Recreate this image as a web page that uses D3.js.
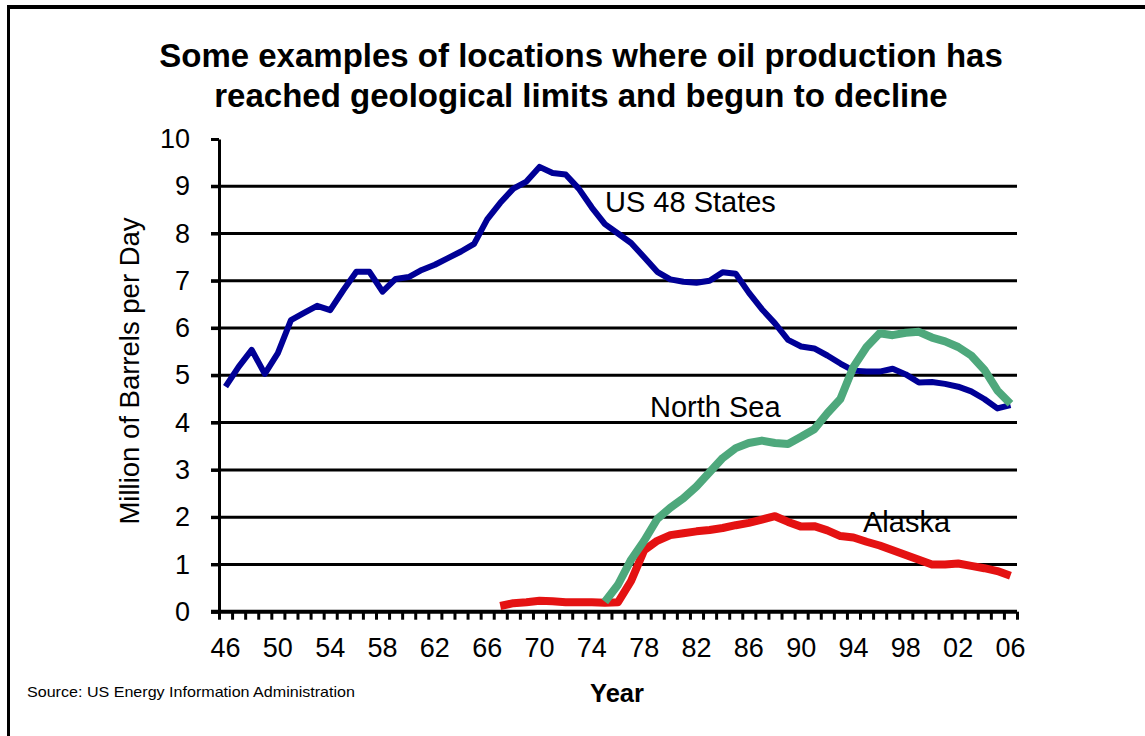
<!DOCTYPE html>
<html>
<head>
<meta charset="utf-8">
<script src="https://cdn.jsdelivr.net/npm/d3@7"></script>
<style>
  body { margin: 0; background: #fff; }
  svg { display: block; font-family: "Liberation Sans", Arial, sans-serif; }
</style>
</head>
<body>
<div id="chart"></div>
<script>
// years on the category axis
var years = d3.range(1946, 2007);
var labelYears = d3.range(1946, 2007, 4);

// US lower 48 states, 1946-2006
var usValues = [4.76, 5.18, 5.54, 5.03, 5.47, 6.17, 6.32, 6.47, 6.38, 6.8,
  7.19, 7.19, 6.77, 7.04, 7.08, 7.23, 7.34, 7.48, 7.62, 7.78,
  8.3, 8.65, 8.95, 9.1, 9.41, 9.28, 9.25, 8.95, 8.55, 8.2,
  8.0, 7.8, 7.5, 7.19, 7.03, 6.98, 6.96, 7.0, 7.18, 7.15,
  6.75, 6.4, 6.1, 5.75, 5.61, 5.57, 5.42, 5.25, 5.1, 5.08,
  5.08, 5.14, 5.02, 4.85, 4.86, 4.82, 4.76, 4.66, 4.5, 4.3, 4.37];

// North Sea, 1975-2006
var northSeaStart = 1975;
var northSeaValues = [0.21, 0.57, 1.1, 1.5, 1.96, 2.2, 2.4, 2.65, 2.95, 3.25,
  3.46, 3.57, 3.62, 3.57, 3.55, 3.7, 3.86, 4.2, 4.5, 5.18,
  5.6, 5.89, 5.85, 5.9, 5.92, 5.8, 5.72, 5.6, 5.42, 5.12, 4.68, 4.4];

// Alaska, 1967-2006
var alaskaStart = 1967;
var alaskaValues = [0.12, 0.18, 0.2, 0.23, 0.22, 0.2, 0.2, 0.2, 0.19, 0.2,
  0.65, 1.3, 1.5, 1.62, 1.66, 1.7, 1.73, 1.77, 1.83, 1.88,
  1.95, 2.02, 1.9, 1.8, 1.81, 1.72, 1.6, 1.57, 1.48, 1.4,
  1.3, 1.2, 1.1, 1.0, 1.0, 1.02, 0.97, 0.92, 0.86, 0.76];

var width = 1145, height = 736;

var svg = d3.select("#chart").append("svg")
    .attr("width", width)
    .attr("height", height);

svg.append("rect").attr("width", width).attr("height", height).attr("fill", "#fff");

// frame (top and left edges only are visible)
svg.append("line").attr("x1", 7).attr("x2", width).attr("y1", 7).attr("y2", 7)
    .attr("stroke", "#000").attr("stroke-width", 4);
svg.append("line").attr("x1", 8.5).attr("x2", 8.5).attr("y1", 5).attr("y2", height)
    .attr("stroke", "#000").attr("stroke-width", 3);

var x0 = 219, x1 = 1017, y0 = 611.7, y1 = 139;

var xBand = d3.scaleBand().domain(years).range([x0, x1]).padding(0);
var xEdge = d3.scaleLinear().domain([1946, 2007]).range([x0, x1]);
var y = d3.scaleLinear().domain([0, 10]).range([y0, y1]);

function xc(yr) { return xBand(yr) + xBand.bandwidth() / 2; }

// gridlines
svg.append("g").attr("class", "grid")
  .selectAll("line")
  .data(d3.range(1, 10))
  .enter().append("line")
    .attr("x1", x0 - 8).attr("x2", x1)
    .attr("y1", function(d) { return y(d); })
    .attr("y2", function(d) { return y(d); })
    .attr("stroke", "#000").attr("stroke-width", 3);

// y axis
var yAxis = svg.append("g")
    .attr("transform", "translate(" + x0 + ",0)")
    .call(d3.axisLeft(y).ticks(10).tickSize(8).tickPadding(21).tickSizeOuter(0));
yAxis.select(".domain").attr("stroke-width", 3);
yAxis.selectAll(".tick line").attr("stroke-width", 3);
yAxis.selectAll("text").attr("font-size", 27).attr("fill", "#000")
    .attr("font-family", "Liberation Sans, Arial, sans-serif");

// x axis minor ticks at category edges
var xTicks = svg.append("g")
    .attr("transform", "translate(0," + y0 + ")")
    .call(d3.axisBottom(xEdge).tickValues(d3.range(1946, 2008)).tickFormat("").tickSize(8).tickSizeOuter(0));
xTicks.select(".domain").remove();
xTicks.selectAll(".tick line").attr("stroke-width", 3);

svg.append("line")
    .attr("x1", x0 - 8).attr("x2", x1)
    .attr("y1", y0).attr("y2", y0)
    .attr("stroke", "#000").attr("stroke-width", 4);

// x axis labels
var xLabels = svg.append("g")
    .attr("transform", "translate(0," + y0 + ")")
    .call(d3.axisBottom(xBand).tickValues(labelYears)
      .tickFormat(function(d) { return String(d).slice(2); })
      .tickSize(0).tickPadding(26));
xLabels.select(".domain").remove();
xLabels.selectAll("text").attr("font-size", 27).attr("fill", "#000")
    .attr("font-family", "Liberation Sans, Arial, sans-serif");

// series
var line = d3.line()
    .x(function(d) { return xc(d.year); })
    .y(function(d) { return y(d.value); });

function toPoints(start, values) {
  return values.map(function(v, i) { return {year: start + i, value: v}; });
}

var series = [
  {name: "US 48 States", pts: toPoints(1946, usValues), color: "#000096", w: 6},
  {name: "Alaska", pts: toPoints(alaskaStart, alaskaValues), color: "#e41212", w: 8},
  {name: "North Sea", pts: toPoints(northSeaStart, northSeaValues), color: "#4ea87c", w: 8}
];

svg.append("g").selectAll("path")
  .data(series)
  .enter().append("path")
    .attr("d", function(d) { return line(d.pts); })
    .attr("fill", "none")
    .attr("stroke", function(d) { return d.color; })
    .attr("stroke-width", function(d) { return d.w; })
    .attr("stroke-linejoin", "round")
    .attr("stroke-linecap", "butt");

// series labels
var seriesLabels = [
  {text: "US 48 States", x: 605, y: 212},
  {text: "North Sea", x: 650, y: 417},
  {text: "Alaska", x: 863, y: 532}
];
svg.append("g").selectAll("text")
  .data(seriesLabels)
  .enter().append("text")
    .attr("x", function(d) { return d.x; })
    .attr("y", function(d) { return d.y; })
    .attr("font-size", 29)
    .attr("fill", "#000")
    .text(function(d) { return d.text; });

// title
var title = svg.append("text")
    .attr("text-anchor", "middle")
    .attr("font-size", 33)
    .attr("font-weight", "bold")
    .attr("fill", "#000");
title.append("tspan").attr("x", 581).attr("y", 67)
    .text("Some examples of locations where oil production has");
title.append("tspan").attr("x", 581).attr("y", 107)
    .text("reached geological limits and begun to decline");

// axis titles
svg.append("text")
    .attr("transform", "translate(139,371) rotate(-90)")
    .attr("text-anchor", "middle")
    .attr("font-size", 27.5)
    .attr("fill", "#000")
    .text("Million of Barrels per Day");

svg.append("text")
    .attr("x", 617).attr("y", 702)
    .attr("text-anchor", "middle")
    .attr("font-size", 25.5)
    .attr("font-weight", "bold")
    .attr("fill", "#000")
    .text("Year");

svg.append("text")
    .attr("x", 27).attr("y", 697)
    .attr("font-size", 15)
    .attr("textLength", 328)
    .attr("lengthAdjust", "spacingAndGlyphs")
    .attr("fill", "#000")
    .text("Source: US Energy Information Administration");
</script>
</body>
</html>
